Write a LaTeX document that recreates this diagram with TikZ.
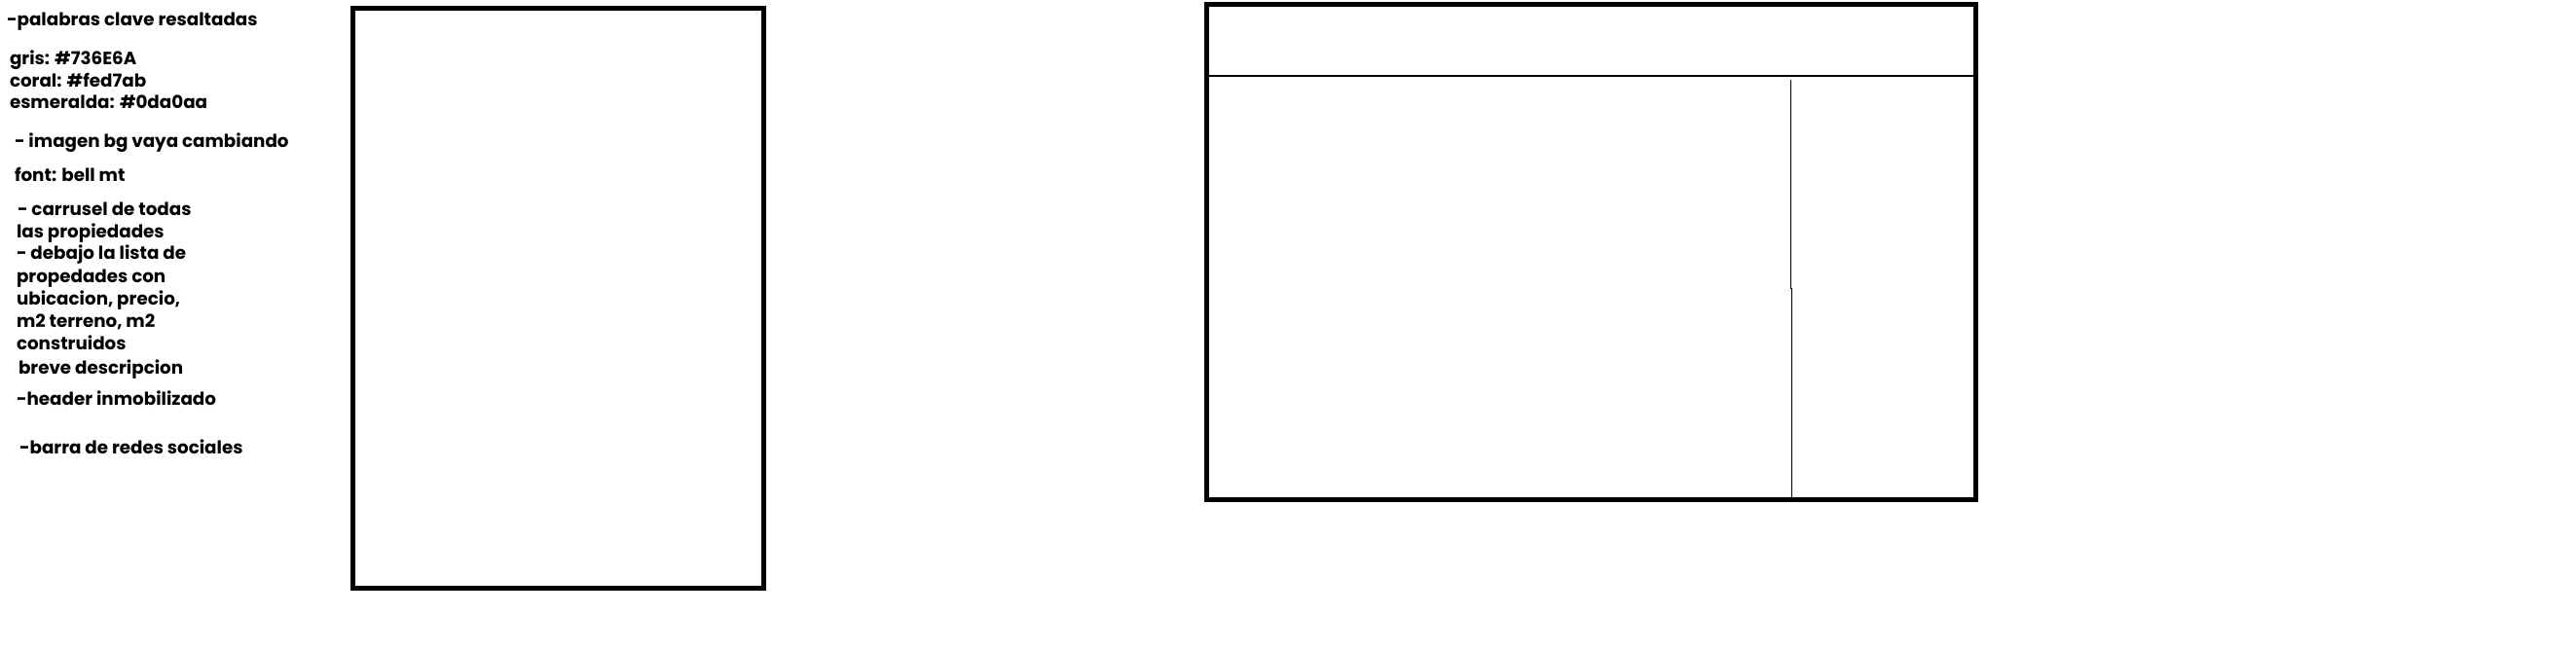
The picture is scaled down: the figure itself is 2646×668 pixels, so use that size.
\documentclass[tikz,border=0pt]{standalone}
\usepackage{fontspec}
\setmainfont{Poppins}
\begin{document}
\begin{tikzpicture}[x=1pt,y=-1pt,
  framebox/.style={draw=black,line width=5pt,inner sep=0pt,outer sep=0pt},
  divider/.style={draw=black,line width=1.6pt},
  note/.style={anchor=base west,inner sep=0pt,outer sep=0pt,font=\bfseries\fontsize{18.3}{20}\selectfont}]
\useasboundingbox (0,0) rectangle (2646,668);
\fill[white] (0,0) rectangle (2646,668);
% boxes
\node[framebox,minimum width=422pt,minimum height=596pt] (mobile) at (573.5,306.5) {};
\node[framebox,minimum width=790pt,minimum height=509pt] (desk) at (1634.5,259) {};
\coordinate (hl) at (1239.5,78);
\coordinate (hr) at (2029.5,78);
\draw[divider] (hl) -- (hr);
\coordinate (v1) at (1839.5,82);
\coordinate (v2) at (1839.5,297);
\coordinate (v3) at (1840.5,296);
\coordinate (v4) at (1840.5,512);
\draw[divider] (v1) -- (v2);
\draw[divider] (v3) -- (v4);
% notes
\node[note] (t1) at (7,26.7) {-palabras clave resaltadas};
\node[note] (t2) at (10,66.7) {gris: \#736E6A};
\node[note] (t3) at (10,90) {coral: \#fed7ab};
\node[note] (t4) at (10,111.7) {esmeralda: \#0da0aa};
\node[note] (t5) at (15,151.7) {- imagen bg vaya cambiando};
\node[note] (t6) at (15,186.7) {font: bell mt};
\node[note] (t7) at (18,221.7) {- carrusel de todas};
\node[note] (t8) at (17,244.3) {las propiedades};
\node[note] (t9) at (17,266.7) {- debajo la lista de};
\node[note] (t10) at (17,290.7) {propedades con};
\node[note] (t11) at (17,313) {ubicacion, precio,};
\node[note] (t12) at (17,336.7) {m2 terreno, m2};
\node[note] (t13) at (17,359) {construidos};
\node[note] (t14) at (19,384) {breve descripcion};
\node[note] (t15) at (17,416.7) {-header inmobilizado};
\node[note] (t16) at (20,466.7) {-barra de redes sociales};
\end{tikzpicture}
\end{document}
